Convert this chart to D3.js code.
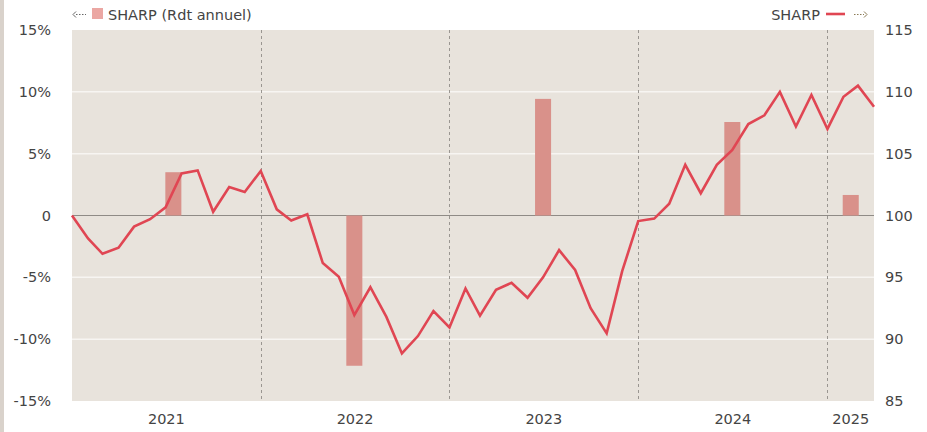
<!DOCTYPE html>
<html>
<head>
<meta charset="utf-8">
<script src="https://cdn.jsdelivr.net/npm/d3@7"></script>
<style>
  body { margin: 0; background: #fff; font-family: "DejaVu Sans", Verdana, sans-serif; }
  #strip { position: absolute; left: 0; top: 0; width: 4px; height: 432px; background: #d9d2cb; }
</style>
</head>
<body>
<div id="strip"></div>
<svg id="chart" width="927" height="432"></svg>
<script>
// monthly index (right axis), Jan 2021 -> Apr 2025
const startMonth = "2021-01-01";
const sharpIndex = [
  100.0, 98.15, 96.9, 97.4, 99.1, 99.7, 100.66, 103.4, 103.65, 100.3, 102.3, 101.9,
  103.6, 100.5, 99.6, 100.1, 96.15, 95.05, 91.95, 94.2, 91.8, 88.85, 90.25, 92.27,
  90.95, 94.1, 91.9, 94.0, 94.56, 93.35, 95.0, 97.2, 95.6, 92.5, 90.47, 95.5,
  99.55, 99.75, 100.95, 104.1, 101.8, 104.1, 105.3, 107.4, 108.1, 110.0, 107.2, 109.75,
  107.0, 109.6, 110.5, 108.8
];

// annual return bars (left axis, %)
const barYears = ["2021", "2022", "2023", "2024", "2025"];
const barDates = ["2021-07-16", "2022-07-01", "2023-07-01", "2024-07-01", "2025-02-15"];
const barReturns = [3.5, -12.15, 9.43, 7.56, 1.66];

const leftTicks = [-15, -10, -5, 0, 5, 10, 15];
const rightTicks = [85, 90, 95, 100, 105, 110, 115];
const yearLabels = ["2021", "2022", "2023", "2024", "2025"];
const yearBreaks = ["2022-01-01", "2023-01-01", "2024-01-01", "2025-01-01"];

const parse = d3.utcParse("%Y-%m-%d");
const t0 = parse(startMonth);
const lineData = sharpIndex.map((v, i) => ({ date: d3.utcMonth.offset(t0, i), value: v }));
const barData = barYears.map((y, i) => ({ year: y, date: parse(barDates[i]), value: barReturns[i] }));

const margin = { top: 30, right: 53, bottom: 31, left: 72 };
const W = 927, H = 432;
const innerW = W - margin.left - margin.right;
const innerH = H - margin.top - margin.bottom;
const fs = 14.5;

const svg = d3.select("#chart");
const g = svg.append("g").attr("transform", `translate(${margin.left},${margin.top})`);

const x = d3.scaleUtc()
  .domain([t0, lineData[lineData.length - 1].date])
  .range([0, innerW]);
const yLeft = d3.scaleLinear().domain([-15, 15]).range([innerH, 0]);
const yRight = d3.scaleLinear().domain([85, 115]).range([innerH, 0]);

// plot background
g.append("rect").attr("width", innerW).attr("height", innerH).attr("fill", "#e8e3dc");

// horizontal grid
g.selectAll(".hgrid").data(leftTicks.filter(d => d !== 0 && d !== -15 && d !== 15))
  .join("line")
  .attr("x1", 0).attr("x2", innerW)
  .attr("y1", d => yLeft(d)).attr("y2", d => yLeft(d))
  .attr("stroke", "#f7f5f2").attr("stroke-width", 1.5);

// year separators
g.selectAll(".vgrid").data(yearBreaks.map(parse))
  .join("line")
  .attr("x1", d => Math.round(x(d)) + 0.5).attr("x2", d => Math.round(x(d)) + 0.5)
  .attr("y1", 0).attr("y2", innerH)
  .attr("stroke", "#9a9691").attr("stroke-dasharray", "3,3");

// zero line
g.append("line")
  .attr("x1", 0).attr("x2", innerW)
  .attr("y1", yLeft(0)).attr("y2", yLeft(0))
  .attr("stroke", "#8f8b86").attr("stroke-width", 1);

// bars
const barW = x(d3.utcMonth.offset(t0, 1)) - x(t0);
g.selectAll(".bar").data(barData)
  .join("rect")
  .attr("x", d => x(d.date) - barW / 2)
  .attr("width", barW)
  .attr("y", d => yLeft(Math.max(0, d.value)))
  .attr("height", d => Math.abs(yLeft(d.value) - yLeft(0)))
  .attr("fill", "#d9918a");

// line
g.append("path")
  .datum(lineData)
  .attr("fill", "none")
  .attr("stroke", "#e04653")
  .attr("stroke-width", 2.6)
  .attr("stroke-linejoin", "miter")
  .attr("d", d3.line().x(d => x(d.date)).y(d => yRight(d.value)));

// axes text
const txt = "#444";
g.selectAll(".lt").data(leftTicks)
  .join("text")
  .attr("x", -21).attr("y", d => yLeft(d))
  .attr("dy", "0.35em")
  .attr("text-anchor", "end")
  .attr("font-size", fs).attr("fill", txt)
  .text(d => d === 0 ? "0" : d + "%");

g.selectAll(".rt").data(rightTicks)
  .join("text")
  .attr("x", innerW + 11).attr("y", d => yRight(d))
  .attr("dy", "0.35em")
  .attr("font-size", fs).attr("fill", txt)
  .text(d => d);

// year labels centered on visible year span, kept inside plot
const yl = g.selectAll(".yl").data(yearLabels)
  .join("text")
  .attr("y", innerH + 23)
  .attr("text-anchor", "middle")
  .attr("font-size", fs).attr("fill", txt)
  .text(d => d);
yl.each(function (d) {
  const a = Math.max(0, x(parse(d + "-01-01")));
  const b = Math.min(innerW, x(parse((+d + 1) + "-01-01")));
  const w = this.getComputedTextLength();
  const cx = Math.min((a + b) / 2, innerW - w / 2);
  d3.select(this).attr("x", cx);
});

// legend
const lg = svg.append("g").attr("font-size", fs).attr("fill", txt);
// left dotted arrow
lg.append("line").attr("x1", 76).attr("x2", 86).attr("y1", 14.5).attr("y2", 14.5)
  .attr("stroke", "#666").attr("stroke-width", 1).attr("stroke-dasharray", "1.5,1.5");
lg.append("path").attr("d", "M76,11.5 L73,14.5 L76,17.5")
  .attr("fill", "none").attr("stroke", "#666").attr("stroke-width", 1);
lg.append("rect").attr("x", 92).attr("y", 8).attr("width", 11).attr("height", 11).attr("fill", "#eba7a3");
lg.append("text").attr("x", 108).attr("y", 19.5).text("SHARP (Rdt annuel)");

lg.append("text").attr("x", 820).attr("y", 19.5).attr("text-anchor", "end").text("SHARP");
lg.append("line").attr("x1", 826).attr("x2", 845).attr("y1", 14).attr("y2", 14)
  .attr("stroke", "#e04653").attr("stroke-width", 2.6);
// right dotted arrow
lg.append("line").attr("x1", 854).attr("x2", 864).attr("y1", 14.5).attr("y2", 14.5)
  .attr("stroke", "#8a7a55").attr("stroke-width", 1).attr("stroke-dasharray", "1.5,1.5");
lg.append("path").attr("d", "M864,11.5 L867,14.5 L864,17.5")
  .attr("fill", "none").attr("stroke", "#8a7a55").attr("stroke-width", 1);
</script>
</body>
</html>
